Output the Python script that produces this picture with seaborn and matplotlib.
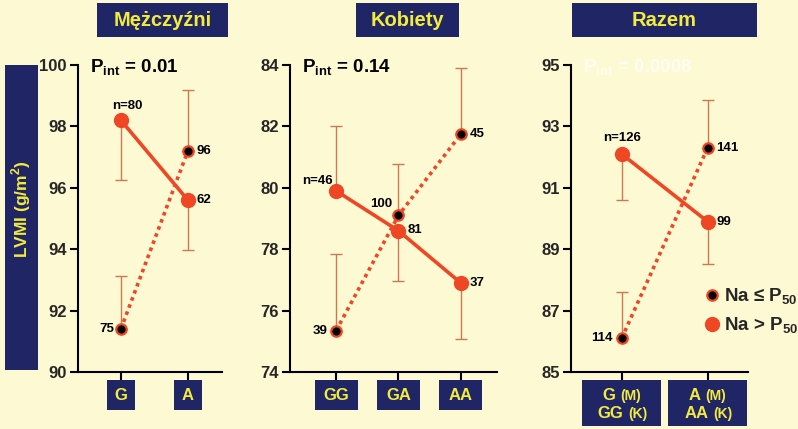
import numpy as np
import pandas as pd
import seaborn as sns
import matplotlib.pyplot as plt
from matplotlib.patches import Rectangle
from matplotlib.lines import Line2D

# LVMI (g/m2)
# "high" = Na > P50 (solid line), "low" = Na <= P50 (dotted line)
men_groups = ['G', 'A']
men_high = [98.2, 95.6]
men_high_err_lo = [1.95, 1.63]
men_high_err_hi = [0.0, 0.0]
men_low = [91.4, 97.2]
men_low_err_lo = [0.0, 0.0]
men_low_err_hi = [1.73, 2.0]
men_high_n = ['n=80', '62']
men_low_n = ['75', '96']
men_p = '0.01'

women_groups = ['GG', 'GA', 'AA']
women_high = [79.9, 78.6, 76.9]
women_high_err_lo = [0.0, 1.65, 1.82]
women_high_err_hi = [2.1, 0.0, 0.0]
women_low = [75.35, 79.1, 81.75]
women_low_err_lo = [0.0, 0.0, 0.0]
women_low_err_hi = [2.5, 1.66, 2.15]
women_high_n = ['n=46', '81', '37']
women_low_n = ['39', '100', '45']
women_p = '0.14'

all_groups = [('G', '(M)', 'GG', '(K)'), ('A', '(M)', 'AA', '(K)')]
all_high = [92.1, 89.9]
all_high_err_lo = [1.49, 1.39]
all_high_err_hi = [0.0, 0.0]
all_low = [86.1, 92.3]
all_low_err_lo = [0.0, 0.0]
all_low_err_hi = [1.52, 1.57]
all_high_n = ['n=126', '99']
all_low_n = ['114', '141']
all_p = '0.0008'

BG = '#fdf9d3'
NAVY = '#1f2565'
YEL = '#f3ec3c'
RED = '#ef4624'
ERR = '#cf7750'

sns.set_style('ticks')
plt.rcParams['font.family'] = ['Liberation Sans', 'DejaVu Sans']
plt.rcParams['font.weight'] = 'bold'
plt.rcParams['mathtext.fontset'] = 'custom'
plt.rcParams['mathtext.rm'] = 'Liberation Sans:bold'
plt.rcParams['mathtext.bf'] = 'Liberation Sans:bold'

W, H = 798, 429
fig = plt.figure(figsize=(W / 100, H / 100), dpi=100, facecolor=BG)
renderer = fig.canvas.get_renderer()


def px(x, y):
    return x / W, 1 - y / H


def box(x0, y0, x1, y1):
    fig.add_artist(Rectangle(px(x0, y1), (x1 - x0) / W, (y1 - y0) / H,
                             transform=fig.transFigure, facecolor=NAVY,
                             edgecolor='none'))


def panel(rect, high, h_lo, h_hi, low, l_lo, l_hi, ylim, yticks, xlim):
    x0, x1 = rect
    ax = fig.add_axes([x0 / W, 1 - 372 / H, (x1 - x0) / W, 307 / H])
    ax.set_facecolor('none')
    pos = np.arange(len(high))
    ax.errorbar(pos, low, yerr=[l_lo, l_hi], fmt='none', ecolor=ERR,
                elinewidth=1, capsize=4, capthick=1, zorder=2)
    ax.errorbar(pos, high, yerr=[h_lo, h_hi], fmt='none', ecolor=ERR,
                elinewidth=1, capsize=4, capthick=1, zorder=2)
    sns.lineplot(data=pd.DataFrame({'pos': pos, 'lvmi': low}), x='pos', y='lvmi',
                 ax=ax, color=RED, lw=2.6, linestyle=(0, (1, 1.1)), marker='o',
                 markersize=7.5, markerfacecolor='black', markeredgecolor=RED,
                 markeredgewidth=1.6, zorder=3)
    sns.lineplot(data=pd.DataFrame({'pos': pos, 'lvmi': high}), x='pos', y='lvmi',
                 ax=ax, color=RED, lw=2.6, marker='o', markersize=10,
                 markerfacecolor=RED, markeredgecolor=RED, markeredgewidth=1,
                 zorder=4)
    ax.set_xlim(*xlim)
    ax.set_ylim(*ylim)
    ax.set_yticks(yticks)
    ax.set_xticks(pos)
    ax.set_xticklabels([''] * len(pos))
    ax.set_xlabel('')
    ax.set_ylabel('')
    for s in ['top', 'right']:
        ax.spines[s].set_visible(False)
    for s in ['left', 'bottom']:
        ax.spines[s].set_linewidth(1.5)
        ax.spines[s].set_color('black')
    ax.tick_params(length=6, width=1.5, color='black', labelsize=12, pad=2)
    return ax, pos


def label(ax, x, y, txt, dx, dy, ha, va='center'):
    ax.annotate(txt, (x, y), xytext=(dx, dy), textcoords='offset pixels',
                ha=ha, va=va, fontsize=9.5, fontweight='bold', color='black',
                zorder=6)


def xboxes(ax, pos, w, y0, y1):
    out = []
    for p in pos:
        cx = fig.transFigure.inverted().transform(ax.transData.transform((p, 0)))[0] * W
        box(cx - w / 2, y0, cx + w / 2, y1)
        out.append(cx)
    return out


def pint(x, y, value, color='black', alpha=1.0):
    fig.text(*px(x, y), 'P$_{\\mathbf{int}}$ = ' + value, fontsize=13.5,
             fontweight='bold', color=color, alpha=alpha, va='top', ha='left')


def mixed(cx, y, big, small, gap=5):
    # big text + smaller text on one line, centred as a whole at cx
    t1 = fig.text(0, 0, big, color=YEL, fontsize=12, fontweight='bold',
                  ha='left', va='baseline')
    t2 = fig.text(0, 0, small, color=YEL, fontsize=10, fontweight='bold',
                  ha='left', va='baseline')
    w1 = t1.get_window_extent(renderer).width
    w2 = t2.get_window_extent(renderer).width
    left = cx - (w1 + gap + w2) / 2
    t1.set_position(px(left, y))
    t2.set_position(px(left + w1 + gap, y))


# panel 1: men
ax1, p1 = panel((78, 222), men_high, men_high_err_lo, men_high_err_hi,
                men_low, men_low_err_lo, men_low_err_hi,
                (90, 100), range(90, 101, 2), (-0.64, 1.51))
label(ax1, 0, men_high[0], men_high_n[0], 6, 8, 'center', 'bottom')
label(ax1, 1, men_high[1], men_high_n[1], 9, 0, 'left')
label(ax1, 0, men_low[0], men_low_n[0], -7, 0, 'right')
label(ax1, 1, men_low[1], men_low_n[1], 9, 0, 'left')
for cx, g in zip(xboxes(ax1, p1, 28, 380, 410), men_groups):
    fig.text(*px(cx, 396), g, color=YEL, fontsize=12, fontweight='bold',
             ha='center', va='center')
pint(90, 58, men_p)

# panel 2: women
ax2, p2 = panel((290, 497), women_high, women_high_err_lo, women_high_err_hi,
                women_low, women_low_err_lo, women_low_err_hi,
                (74, 84), range(74, 85, 2), (-0.74, 2.58))
label(ax2, 0, women_high[0], women_high_n[0], -3, 10, 'right')
label(ax2, 1, women_high[1], women_high_n[1], 9, 1, 'left')
label(ax2, 2, women_high[2], women_high_n[2], 9, 0, 'left')
label(ax2, 0, women_low[0], women_low_n[0], -9, 0, 'right')
label(ax2, 1, women_low[1], women_low_n[1], -6, 11, 'right')
label(ax2, 2, women_low[2], women_low_n[2], 9, 0, 'left')
for cx, g in zip(xboxes(ax2, p2, 43, 380, 410), women_groups):
    fig.text(*px(cx, 396), g, color=YEL, fontsize=12, fontweight='bold',
             ha='center', va='center')
pint(302, 58, women_p)

# panel 3: combined
ax3, p3 = panel((571, 748), all_high, all_high_err_lo, all_high_err_hi,
                all_low, all_low_err_lo, all_low_err_hi,
                (85, 95), range(85, 96, 2), (-0.59, 1.47))
label(ax3, 0, all_high[0], all_high_n[0], 0, 10, 'center', 'bottom')
label(ax3, 1, all_high[1], all_high_n[1], 9, 0, 'left')
label(ax3, 0, all_low[0], all_low_n[0], -9, 0, 'right')
label(ax3, 1, all_low[1], all_low_n[1], 9, 0, 'left')
for cx, (a, sa, b, sb) in zip(xboxes(ax3, p3, 79, 380, 426), all_groups):
    mixed(cx, 400, a, sa)
    mixed(cx + 1, 418, b, sb)
pint(583, 58, all_p, color='white', alpha=0.7)

# titles and y label boxes
for (x0, x1), title in zip([(97, 228), (356, 459), (572, 757)],
                           ['Mężczyźni', 'Kobiety', 'Razem']):
    box(x0, 3, x1, 37)
    fig.text(*px((x0 + x1) / 2, 20), title, color=YEL, fontsize=14.5,
             fontweight='bold', ha='center', va='center')
box(5, 65, 38, 370)
fig.text(*px(21.5, 209), 'LVMI (g/m$^{\\mathbf{2}}$)', color=YEL, fontsize=12.5,
         fontweight='bold', rotation=90, ha='center', va='center')

# legend
handles = [Line2D([], [], ls='none', marker='o', markersize=7.5,
                  markerfacecolor='black', markeredgecolor=RED, markeredgewidth=1.6),
           Line2D([], [], ls='none', marker='o', markersize=10,
                  markerfacecolor=RED, markeredgecolor=RED)]
fig.legend(handles, ['Na ≤ P$_{\\mathbf{50}}$', 'Na > P$_{\\mathbf{50}}$'],
           loc='center left', bbox_to_anchor=px(691, 311), frameon=False,
           prop={'size': 13.5, 'weight': 'bold'}, handletextpad=0.05,
           labelspacing=0.45, handlelength=1.2, borderpad=0)

fig.savefig('out.png', dpi=100, facecolor=BG)
